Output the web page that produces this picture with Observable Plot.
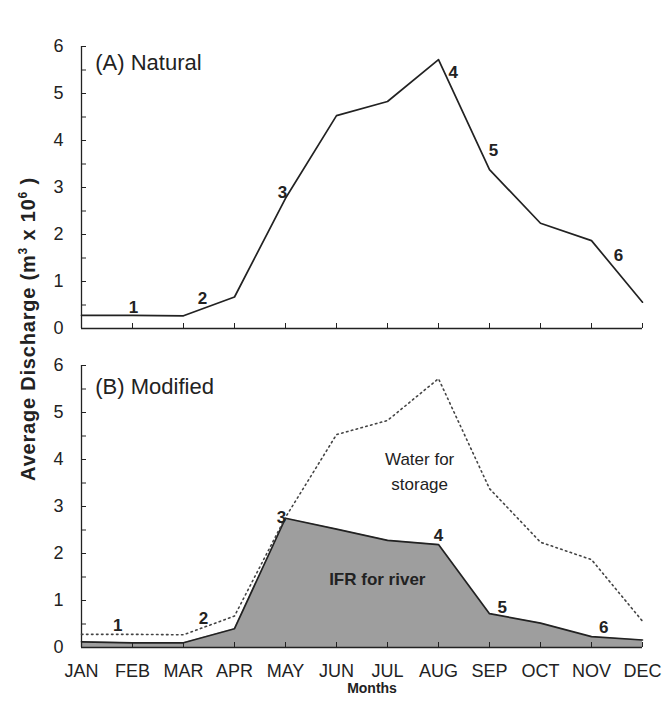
<!DOCTYPE html>
<html>
<head>
<meta charset="utf-8">
<script src="https://cdn.jsdelivr.net/npm/d3@7"></script>
<script src="https://cdn.jsdelivr.net/npm/@observablehq/plot@0.6"></script>
<style>
  html, body { margin: 0; padding: 0; background: #fff; }
  #wrap { position: relative; width: 665px; height: 701px; font-family: "Liberation Sans", Arial, sans-serif; }
  #wrap svg { display: block; }
  #ylab { position: absolute; left: 28px; top: 329px; transform: translate(-50%, -50%) rotate(-90deg); white-space: nowrap;
          font-weight: bold; font-size: 20px; letter-spacing: 0.8px; color: #222; }
  #ylab sup { font-size: 12px; }
</style>
</head>
<body>
<div id="wrap"><div id="ylab">Average Discharge (m<sup>3</sup> x 10<sup>6</sup> )</div></div>
<script>
// Month tick labels
const months = ["JAN","FEB","MAR","APR","MAY","JUN","JUL","AUG","SEP","OCT","NOV","DEC"];
// Natural average discharge (m3 x 10^6)
const natural = [0.28, 0.28, 0.27, 0.67, 2.77, 4.53, 4.83, 5.72, 3.38, 2.24, 1.87, 0.56];
// Instream flow requirement (IFR) for river, modified regime
const ifr = [0.12, 0.10, 0.10, 0.40, 2.75, 2.52, 2.28, 2.19, 0.72, 0.52, 0.23, 0.16];
// Numbered point annotations (month position, value)
const labelsA = [
  {t: "1", m: 1.02, v: 0.45}, {t: "2", m: 2.37, v: 0.64}, {t: "3", m: 3.94, v: 2.89},
  {t: "4", m: 7.29, v: 5.45}, {t: "5", m: 8.08, v: 3.79}, {t: "6", m: 10.53, v: 1.55}
];
const labelsB = [
  {t: "1", m: 0.71, v: 0.47}, {t: "2", m: 2.39, v: 0.62}, {t: "3", m: 3.92, v: 2.77},
  {t: "4", m: 7.0, v: 2.38}, {t: "5", m: 8.25, v: 0.85}, {t: "6", m: 10.24, v: 0.43}
];
const panelTitles = [{t: "(A) Natural", m: 0.27, v: 5.64}, {t: "(B) Modified", m: 0.27, v: 5.54}];
const storageLabel = [{t: "Water for\nstorage", m: 6.63, v: 3.78}];
const riverLabel = [{t: "IFR for river", m: 5.8, v: 1.45}];

const natData = natural.map((v, i) => ({m: i, v}));
const ifrData = ifr.map((v, i) => ({m: i, v}));
const monthIdx = months.map((_, i) => i);
const yTicks = d3.range(0, 6.01, 0.5);
const yLabels = d3.range(0, 7);
const font = "Liberation Sans, Arial, sans-serif";
const ink = "#222";
const blank = () => "";

function common(showMonths) {
  return [
    // inward tick marks
    Plot.axisY({ticks: yTicks, tickSize: 5, dx: 5, tickFormat: blank, label: null, stroke: ink}),
    Plot.axisX({ticks: monthIdx, tickSize: 5, dy: -5, tickFormat: blank, label: null, stroke: ink}),
    // tick labels
    Plot.axisY({ticks: yLabels, tickSize: 0, tickPadding: 18, fontSize: 18, label: null, color: ink,
      tickFormat: d => String(d)}),
    ...(showMonths ? [Plot.axisX({ticks: monthIdx, tickSize: 0, tickPadding: 17, fontSize: 18, label: null,
      tickFormat: d => months[d], color: ink})] : []),
    Plot.ruleX([0], {y1: 0, y2: 6, stroke: ink, strokeWidth: 1.3}),
    Plot.ruleY([0], {x1: 0, x2: 11, stroke: ink, strokeWidth: 1.3})
  ];
}

const chartA = Plot.plot({
  width: 665, height: 340,
  marginTop: 46, marginBottom: 12, marginLeft: 81, marginRight: 23,
  x: {type: "linear", domain: [0, 11]},
  y: {domain: [0, 6]},
  style: {fontFamily: font, background: "white", color: ink},
  marks: [
    ...common(false),
    Plot.line(natData, {x: "m", y: "v", stroke: ink, strokeWidth: 1.7}),
    Plot.text(labelsA, {x: "m", y: "v", text: "t", fontWeight: "bold", fontSize: 17, fill: ink}),
    Plot.text(panelTitles.slice(0, 1), {x: "m", y: "v", text: "t", textAnchor: "start", fontSize: 22, fill: ink})
  ]
});

const chartB = Plot.plot({
  width: 665, height: 361,
  marginTop: 25, marginBottom: 54, marginLeft: 81, marginRight: 23,
  x: {type: "linear", domain: [0, 11]},
  y: {domain: [0, 6]},
  style: {fontFamily: font, background: "white", color: ink},
  marks: [
    Plot.areaY(ifrData, {x: "m", y: "v", fill: "#9e9e9e"}),
    ...common(true),
    Plot.line(ifrData, {x: "m", y: "v", stroke: ink, strokeWidth: 1.7}),
    Plot.line(natData, {x: "m", y: "v", stroke: "#444", strokeWidth: 1.6, strokeDasharray: "1.5,3.5"}),
    Plot.text(labelsB, {x: "m", y: "v", text: "t", fontWeight: "bold", fontSize: 17, fill: ink}),
    Plot.text(panelTitles.slice(1), {x: "m", y: "v", text: "t", textAnchor: "start", fontSize: 22, fill: ink}),
    Plot.text(storageLabel, {x: "m", y: "v", text: "t", fontSize: 17, fill: ink, lineHeight: 1.45}),
    Plot.text(riverLabel, {x: "m", y: "v", text: "t", fontWeight: "bold", fontSize: 17, fill: ink}),
    Plot.text(["Months"], {frameAnchor: "bottom", dy: 45, dx: 10, fontWeight: "bold", fontSize: 14, fill: ink})
  ]
});

const wrap = document.getElementById("wrap");
wrap.appendChild(chartA);
wrap.appendChild(chartB);
</script>
</body>
</html>
